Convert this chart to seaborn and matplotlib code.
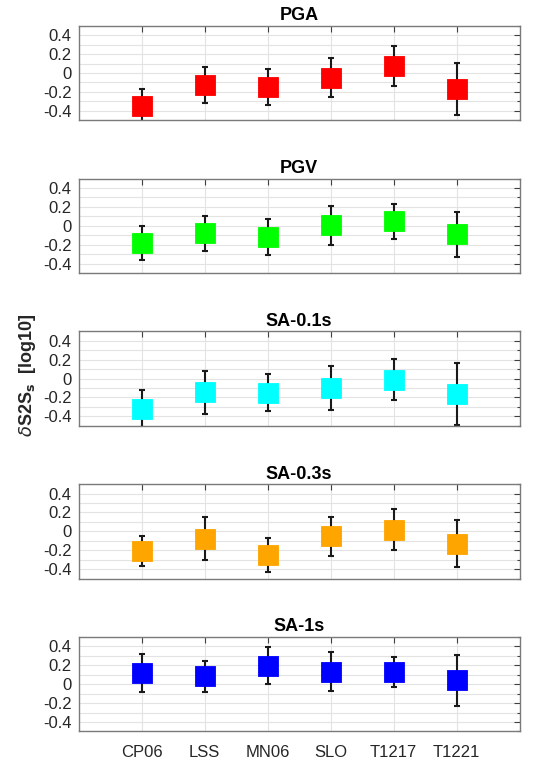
import numpy as np
import pandas as pd
import matplotlib
matplotlib.use("Agg")
import matplotlib.pyplot as plt
from matplotlib.ticker import MultipleLocator
import seaborn as sns

stations = ["CP06", "LSS", "MN06", "SLO", "T1217", "T1221"]
titles = ["PGA", "PGV", "SA-0.1s", "SA-0.3s", "SA-1s"]
colors = ["#ff0000", "#00ff00", "#00ffff", "#ffa500", "#0000ff"]

pga_mean = [-0.346, -0.124, -0.151, -0.049, 0.077, -0.173]
pga_err = [0.180, 0.189, 0.191, 0.202, 0.211, 0.276]
pgv_mean = [-0.180, -0.082, -0.118, 0.007, 0.046, -0.091]
pgv_err = [0.180, 0.189, 0.191, 0.207, 0.184, 0.238]
sa01_mean = [-0.320, -0.145, -0.150, -0.102, -0.014, -0.163]
sa01_err = [0.195, 0.225, 0.196, 0.236, 0.216, 0.325]
sa03_mean = [-0.210, -0.077, -0.248, -0.054, 0.018, -0.133]
sa03_err = [0.158, 0.225, 0.182, 0.210, 0.214, 0.248]
sa1_mean = [0.116, 0.081, 0.193, 0.129, 0.129, 0.039]
sa1_err = [0.200, 0.163, 0.195, 0.206, 0.159, 0.265]

means = [pga_mean, pgv_mean, sa01_mean, sa03_mean, sa1_mean]
errs = [pga_err, pgv_err, sa01_err, sa03_err, sa1_err]
yticks = [-0.4, -0.2, 0, 0.2, 0.4]
ytick_labels = ["-0.4", "-0.2", "0", "0.2", "0.4"]

sns.set_style("white")
plt.rcParams["font.family"] = ["Liberation Sans", "DejaVu Sans"]

W, H = 543, 761
fig = plt.figure(figsize=(W / 100, H / 100), dpi=100)

left, width, height = 78.7, 441.0, 94.5
tops = [25.7, 178.5, 331.3, 484.1, 636.9]
xpos = np.arange(1, len(stations) + 1)

for i, (title, col, m, e) in enumerate(zip(titles, colors, means, errs)):
    top = tops[i]
    ax = fig.add_axes([left / W, 1 - (top + height) / H, width / W, height / H])
    df = pd.DataFrame({"x": xpos, "y": m, "err": e, "station": stations})
    ax.errorbar(df["x"], df["y"], yerr=df["err"], fmt="none", ecolor="#1a1a1a",
                elinewidth=1.5, capsize=2.5, capthick=1.5, zorder=2)
    sns.scatterplot(data=df, x="x", y="y", marker="s", s=225, color=col,
                    edgecolor=col, linewidth=0.6, ax=ax, zorder=3, legend=False)
    ax.set_xlim(0, 7)
    ax.set_ylim(-0.5, 0.5)
    ax.set_xticks(xpos)
    if i == len(titles) - 1:
        ax.set_xticklabels(stations)
    else:
        ax.set_xticklabels([])
    ax.set_yticks(yticks)
    ax.set_yticklabels(ytick_labels)
    ax.yaxis.set_minor_locator(MultipleLocator(0.1))
    ax.set_xlabel("")
    ax.set_ylabel("")
    ax.set_title(title, fontsize=13, fontweight="bold", pad=4, color="black")
    ax.grid(True, which="major", color="#e3e3e3", linewidth=0.8, zorder=0)
    ax.grid(True, which="minor", axis="y", color="#e3e3e3", linewidth=0.8, zorder=0)
    ax.set_axisbelow(True)
    ax.tick_params(axis="both", which="both", direction="in", top=True, right=True,
                   colors="#404040", labelcolor="#262626", labelsize=12, width=0.8)
    ax.tick_params(axis="both", which="major", length=4)
    ax.tick_params(axis="y", which="minor", length=2.5)
    ax.tick_params(axis="y", which="major", pad=5)
    ax.tick_params(axis="x", which="major", pad=10)
    for s in ax.spines.values():
        s.set_color("#7a7a7a")
        s.set_linewidth(1.0)

fig.text(28 / W, 1 - 375 / H, r"$\delta$S2S$_{\mathbf{s}}$  [log10]", rotation=90,
         ha="center", va="center", fontsize=13, fontweight="bold")

fig.savefig("out.png", dpi=100)
